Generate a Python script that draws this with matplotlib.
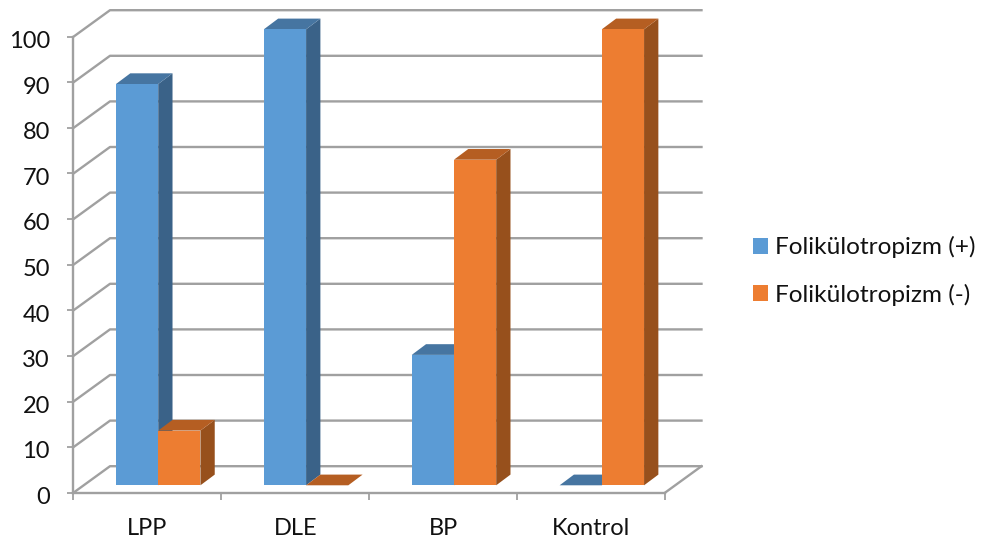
import matplotlib
matplotlib.use("Agg")
import matplotlib.pyplot as plt
from matplotlib.patches import Patch
from matplotlib.transforms import ScaledTranslation

categories = ["LPP", "DLE", "BP", "Kontrol"]
series_names = ["Folikülotropizm (+)", "Folikülotropizm (-)"]
positive = [88, 100, 28.6, 0]
negative = [12, 0, 71.4, 100]
y_ticks = list(range(0, 101, 10))

FRONT = ["#5B9BD5", "#ED7D31"]
TOP = ["#4675A1", "#B55E22"]
SIDE = ["#3A6288", "#97501C"]
GRID = "#A0A0A0"
TEXT = "#111111"

W, H = 987, 545
plt.rcParams["font.family"] = ["Lato", "DejaVu Sans"]

fig = plt.figure(figsize=(W / 100, H / 100), dpi=100)
left, right, top, bottom = 73.5, 665.0, 36.7, 492.7
ax = fig.add_axes([left / W, 1 - bottom / H, (right - left) / W, (bottom - top) / H])
ax.set_xlim(0, len(categories))
ax.set_ylim(0, 100)

# Scales for faking the oblique 3D projection in data units
px_x = len(categories) / (right - left)
px_y = 100 / (bottom - top)
wall_dx, wall_dy = 36.5 * px_x, 26.5 * px_y
base_dx, base_dy = 10.2 * px_x, 7.4 * px_y
bar_dx, bar_dy = 14.3 * px_x, 10.7 * px_y
bar_start = 0.2184
bar_w = 0.2855


def poly(xs, ys, color, z):
    ax.fill(xs, ys, color=color, lw=0, clip_on=False, zorder=z)


# Side-wall and back-wall gridlines
for v in y_ticks:
    ax.plot([0, wall_dx, len(categories) + wall_dx], [v, v + wall_dy, v + wall_dy],
            color=GRID, lw=1.7, clip_on=False, zorder=1, solid_joinstyle="round")
ax.plot([len(categories), len(categories) + wall_dx], [0, wall_dy],
        color=GRID, lw=1.7, clip_on=False, zorder=1)

# Bars: side and top faces first, then the front face
z = 3
for i in range(len(categories)):
    for s, values in enumerate([positive, negative]):
        v = values[i]
        x0 = i + bar_start + s * bar_w + base_dx
        x1 = x0 + bar_w
        y0 = base_dy
        y1 = base_dy + v
        if v > 0:
            poly([x1, x1 + bar_dx, x1 + bar_dx, x1],
                 [y0, y0 + bar_dy, y1 + bar_dy, y1], SIDE[s], z)
        poly([x0, x1, x1 + bar_dx, x0 + bar_dx],
             [y1, y1, y1 + bar_dy, y1 + bar_dy], TOP[s], z)
        if v > 0:
            poly([x0, x1, x1, x0], [y0, y0, y1, y1], FRONT[s], z + 0.5)
        z += 1

# Axes, ticks and labels
for name in ["top", "right"]:
    ax.spines[name].set_visible(False)
for name in ["left", "bottom"]:
    ax.spines[name].set_color(GRID)
    ax.spines[name].set_linewidth(1.7)
    ax.spines[name].set_zorder(2)

ax.set_yticks(y_ticks)
ax.tick_params(axis="y", length=4.5, width=1.3, color=GRID, pad=12.5, labelsize=17,
               labelcolor=TEXT)
nudge = ScaledTranslation(0, -2 / 72, fig.dpi_scale_trans)
for label in ax.get_yticklabels():
    label.set_transform(label.get_transform() + nudge)

ax.set_xticks(range(len(categories) + 1))
ax.set_xticklabels([])
ax.tick_params(axis="x", which="major", length=5, width=1.3, color=GRID)
ax.set_xticks([i + 0.5 for i in range(len(categories))], labels=categories, minor=True)
ax.tick_params(axis="x", which="minor", length=0, pad=18.5, labelsize=17, labelcolor=TEXT)

handles = [Patch(color=c, lw=0) for c in FRONT]
fig.legend(handles, series_names, loc="center left", bbox_to_anchor=(749 / W, 1 - 271 / H),
           frameon=False, fontsize=17.6, labelcolor=TEXT, handlelength=0.61, handleheight=0.61,
           handletextpad=0.3, labelspacing=1.04, borderaxespad=0, borderpad=0.15)

fig.savefig("out.png", dpi=100)
